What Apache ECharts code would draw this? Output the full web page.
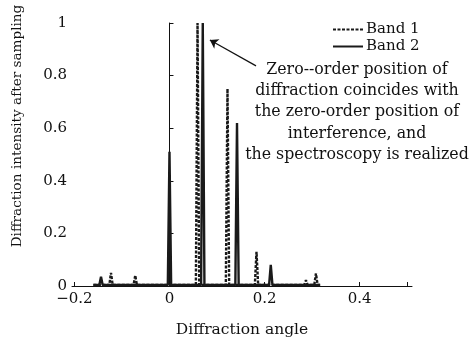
<!DOCTYPE html>
<html>
<head>
<meta charset="utf-8">
<script src="https://cdn.jsdelivr.net/npm/echarts@6/dist/echarts.min.js"></script>
<style>
  html, body { margin: 0; padding: 0; background: #fff; }
  #main { width: 475px; height: 338px; }
</style>
</head>
<body>
<div id="main"></div>
<script>
// peak positions (diffraction angle) and heights
var band1Pos = [-0.123, -0.072, 0.059, 0.122, 0.183, 0.287, 0.308];
var band1Val = [0.05, 0.04, 1.0, 0.75, 0.13, 0.022, 0.048];
var band2Pos = [-0.144, 0.0, 0.070, 0.142, 0.213];
var band2Val = [0.035, 0.51, 1.0, 0.62, 0.08];
var baseRange = [-0.16, 0.317];
var baseLevel = 0.004;
var xTickLabels = [-0.2, 0, 0.2, 0.4];
var yTickLabels = [0, 0.2, 0.4, 0.6, 0.8, 1];

var font = 'DejaVu Serif';

// turn each peak into a narrow spike on the baseline
function spikes (pos, val) {
  var w = 0.0035;
  var pts = [[baseRange[0], baseLevel]];
  for (let i = 0; i < pos.length; i++) {
    pts.push([pos[i] - w, baseLevel]);
    pts.push([pos[i], val[i]]);
    pts.push([pos[i] + w, baseLevel]);
  }
  pts.push([baseRange[1], baseLevel]);
  return pts;
}

var myChart = echarts.init(document.getElementById('main'));

var option = {
  animation: false,
  backgroundColor: '#fff',
  grid: { left: 72, right: 63, top: 23, bottom: 52, outerBoundsMode: 'none' },
  legend: {
    orient: 'vertical',
    left: 327,
    top: 17,
    itemWidth: 30,
    itemHeight: 10,
    itemGap: 2,
    data: ['Band 1', 'Band 2'],
    itemStyle: { opacity: 0 },
    textStyle: { fontFamily: font, fontSize: 15, color: '#111', padding: [0, 0, 0, -2] }
  },
  xAxis: {
    type: 'value',
    min: -0.205,
    max: 0.51,
    name: 'Diffraction angle',
    nameLocation: 'middle',
    nameGap: 36,
    nameTextStyle: { fontFamily: font, fontSize: 15.5, color: '#111' },
    splitLine: { show: false },
    axisLine: { lineStyle: { color: '#111', width: 1 } },
    axisTick: { inside: true, length: 4, customValues: xTickLabels.concat([0.5]), lineStyle: { color: '#111' } },
    axisLabel: {
      customValues: xTickLabels,
      margin: 6,
      fontFamily: font,
      fontSize: 15,
      color: '#111',
      formatter: function (v) { return String(v).replace('-', '\u2212'); }
    }
  },
  yAxis: {
    type: 'value',
    min: 0,
    max: 1,
    interval: 0.2,
    splitLine: { show: false },
    axisLine: { show: true, lineStyle: { color: '#111', width: 1 } },
    axisTick: { show: true, inside: true, length: 4, customValues: yTickLabels, lineStyle: { color: '#111' } },
    axisLabel: { margin: 5, fontFamily: font, fontSize: 15, color: '#111' }
  },
  graphic: [
    {
      // y axis title, sits above the axis middle in the original
      type: 'text',
      x: 17,
      y: 126,
      rotation: Math.PI / 2,
      style: {
        text: 'Diffraction intensity after sampling',
        align: 'center',
        verticalAlign: 'middle',
        font: '13.6px "DejaVu Serif"',
        fill: '#111'
      }
    },
    {
      type: 'text',
      x: 357,
      y: 59,
      style: {
        text: 'Zero--order position of\ndiffraction coincides with\nthe zero-order position of\ninterference, and\nthe spectroscopy is realized',
        align: 'center',
        font: '15.8px "DejaVu Serif"',
        lineHeight: 21.3,
        fill: '#111'
      }
    }
  ],
  series: [
    {
      name: 'Band 1',
      type: 'line',
      symbol: 'none',
      data: spikes(band1Pos, band1Val),
      lineStyle: { color: '#1a1a1a', width: 2.4, type: [3, 1.5] },
      itemStyle: { color: '#1a1a1a' },
      markLine: {
        silent: true,
        symbol: ['none', 'arrow'],
        symbolSize: 8,
        label: { show: false },
        lineStyle: { color: '#111', width: 1.2, type: 'solid' },
        data: [[{ coord: [0.182, 0.837] }, { coord: [0.085, 0.935] }]]
      }
    },
    {
      name: 'Band 2',
      type: 'line',
      symbol: 'none',
      data: spikes(band2Pos, band2Val),
      lineStyle: { color: '#1a1a1a', width: 2.4 },
      itemStyle: { color: '#1a1a1a' }
    }
  ]
};

myChart.setOption(option);
</script>
</body>
</html>
